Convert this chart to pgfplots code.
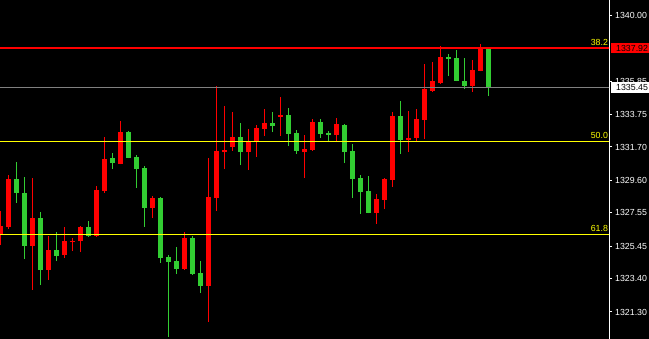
\documentclass[border=0pt]{standalone}
\usepackage{fontspec}
\setmainfont{Liberation Sans}
\usepackage{pgfplots}
\usepackage{pgfplotstable}
\pgfplotsset{compat=1.18}

\definecolor{cred}{RGB}{255,0,0}
\definecolor{cgreen}{RGB}{50,205,50}
\definecolor{cgray}{RGB}{128,128,128}
\definecolor{cyel}{RGB}{255,255,0}

% rising candles: index, open, high, low, close
\pgfplotstableread{
x o h l c
0 1326.13 1327.67 1325.52 1326.72
1 1326.66 1329.93 1326.53 1329.68
4 1325.46 1329.75 1322.69 1327.22
6 1323.95 1326.09 1323.32 1325.21
8 1324.89 1326.66 1324.70 1325.77
9 1325.71 1325.96 1325.14 1325.80
10 1325.77 1326.72 1325.08 1326.66
12 1326.09 1329.24 1326.05 1328.99
13 1328.93 1332.33 1328.80 1330.94
15 1330.63 1333.34 1330.60 1332.64
19 1327.85 1328.61 1327.22 1328.48
23 1324.01 1326.34 1323.95 1325.96
26 1322.94 1331.01 1320.67 1328.55
27 1328.48 1335.54 1327.67 1331.45
28 1331.38 1334.28 1330.31 1331.51
29 1331.70 1333.91 1331.45 1332.33
31 1331.38 1332.83 1330.25 1332.01
32 1332.08 1333.09 1331.07 1332.90
33 1332.83 1334.09 1332.39 1333.21
35 1333.59 1334.85 1332.39 1333.72
38 1331.38 1332.46 1329.75 1331.57
39 1331.51 1333.46 1331.45 1333.27
42 1332.46 1333.53 1332.08 1333.15
47 1327.54 1328.74 1326.85 1328.42
48 1328.36 1329.75 1327.79 1329.68
49 1329.62 1333.91 1329.18 1333.65
51 1332.14 1333.97 1331.38 1332.27
52 1332.27 1334.09 1332.08 1333.46
53 1333.40 1336.93 1332.20 1335.35
54 1335.23 1337.06 1335.17 1335.86
55 1335.73 1338.07 1335.67 1337.37
59 1335.54 1337.18 1335.17 1336.55
60 1336.49 1338.19 1336.46 1337.94
}\uptab

% falling candles: index, open, high, low, close
\pgfplotstableread{
x o h l c
2 1329.68 1330.75 1328.17 1328.80
3 1328.80 1329.81 1324.64 1325.46
5 1327.22 1327.60 1323.00 1323.95
7 1325.21 1326.34 1324.51 1324.83
11 1326.66 1327.04 1326.03 1326.09
14 1331.01 1331.32 1330.31 1330.69
16 1332.64 1332.71 1330.98 1331.01
17 1331.07 1331.20 1329.11 1330.31
18 1330.38 1330.50 1326.66 1327.85
20 1328.48 1328.52 1324.39 1324.70
21 1324.77 1324.89 1319.72 1324.45
22 1324.51 1325.40 1323.69 1324.01
24 1325.96 1326.09 1323.66 1323.69
25 1323.76 1324.51 1322.50 1322.94
30 1332.33 1333.21 1330.56 1331.38
34 1333.21 1333.91 1332.64 1333.02
36 1333.72 1334.16 1331.76 1332.52
37 1332.58 1332.77 1331.26 1331.45
40 1333.27 1333.46 1332.27 1332.52
41 1332.58 1332.71 1332.08 1332.46
43 1333.09 1333.12 1330.69 1331.38
44 1331.45 1331.89 1328.48 1329.68
45 1329.75 1329.93 1327.48 1328.86
46 1328.93 1329.87 1327.51 1327.54
50 1333.65 1334.60 1331.26 1332.14
56 1337.37 1337.56 1336.17 1337.25
57 1337.31 1337.81 1335.83 1335.86
58 1335.86 1337.31 1335.35 1335.54
61 1337.92 1337.96 1334.91 1335.45
}\downtab

\begin{document}
\begin{tikzpicture}
\fill[black] (0,0) rectangle (649bp,339bp);
\begin{axis}[
  at={(0,0)}, anchor=south west,
  scale only axis, width=609bp, height=339bp,
  xmin=-0.0625, xmax=76.0625,
  ymin=1319.598, ymax=1340.964,
  axis x line=none, axis y line=right,
  axis line style={white, line width=1bp, -},
  every outer y axis line/.append style={-},
  ytick={1340,1335.85,1333.75,1331.70,1329.60,1327.55,1325.45,1323.40,1321.30},
  yticklabels={1340.00,1335.85,1333.75,1331.70,1329.60,1327.55,1325.45,1323.40,1321.30},
  tick align=outside, major tick length=3bp,
  tick style={white, line width=1bp},
  yticklabel style={anchor=west, inner sep=0pt, xshift=3bp, text=white,
    font=\fontsize{8.8bp}{10bp}\selectfont},
  clip=true,
]
% wicks
\addplot[draw=none, error bars/.cd, y dir=plus, y explicit, error mark=none,
  error bar style={draw=cred, line width=1bp}]
  table[x=x, y=l, y error plus expr=\thisrow{h}-\thisrow{l}] {\uptab};
\addplot[draw=none, error bars/.cd, y dir=plus, y explicit, error mark=none,
  error bar style={draw=cgreen, line width=1bp}]
  table[x=x, y=l, y error plus expr=\thisrow{h}-\thisrow{l}] {\downtab};
% bodies
\addplot[draw=none, error bars/.cd, y dir=plus, y explicit, error mark=none,
  error bar style={draw=cred, line width=5bp}]
  table[x=x, y=o, y error plus expr=\thisrow{c}-\thisrow{o}] {\uptab};
\addplot[draw=none, error bars/.cd, y dir=plus, y explicit, error mark=none,
  error bar style={draw=cgreen, line width=5bp}]
  table[x=x, y=c, y error plus expr=\thisrow{o}-\thisrow{c}] {\downtab};
% Fibonacci levels
\addplot[cyel, line width=1bp] coordinates {(-1,1337.92) (77,1337.92)};
\addplot[cyel, line width=1bp] coordinates {(-1,1332.06) (77,1332.06)};
\addplot[cyel, line width=1bp] coordinates {(-1,1326.20) (77,1326.20)};
% current price and high
\addplot[cgray, line width=1bp] coordinates {(-1,1335.45) (77,1335.45)};
\addplot[cred, line width=2bp] coordinates {(-1,1337.92) (77,1337.92)};
\begin{scope}[font=\fontsize{8.8bp}{10bp}\selectfont, text=cyel]
\node[anchor=south east, inner sep=0pt, yshift=2.4bp] at (axis cs:75.95,1337.92) {38.2};
\node[anchor=south east, inner sep=0pt, yshift=2.4bp] at (axis cs:75.95,1332.06) {50.0};
\node[anchor=south east, inner sep=0pt, yshift=2.4bp] at (axis cs:75.95,1326.20) {61.8};
\end{scope}
\coordinate (hilab) at (axis cs:76.0625,1337.92);
\coordinate (lastlab) at (axis cs:76.0625,1335.45);
\end{axis}
% price tags on the scale
\path (hilab) ++(1.7bp,0) node[fill=cred, anchor=west, minimum width=38.3bp,
  minimum height=9.6bp, inner sep=0pt] {};
\path (hilab) ++(7bp,0) node[anchor=west, inner sep=0pt, text=black,
  font=\fontsize{8.8bp}{10bp}\selectfont] {1337.92};
\path (lastlab) ++(1.7bp,0) node[fill=white, anchor=west, minimum width=38.3bp,
  minimum height=10.4bp, inner sep=0pt] {};
\path (lastlab) ++(7bp,0) node[anchor=west, inner sep=0pt, text=black,
  font=\fontsize{8.8bp}{10bp}\selectfont] {1335.45};
\pgfresetboundingbox
\useasboundingbox (0,0) rectangle (649bp,339bp);
\end{tikzpicture}
\end{document}
